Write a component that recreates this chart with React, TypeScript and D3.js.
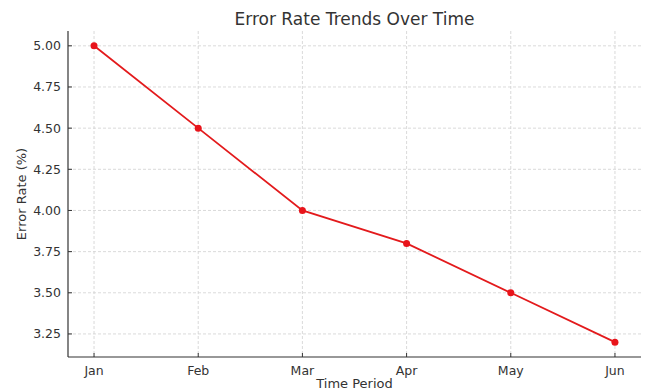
import React from "react";
import * as d3 from "d3";

const months = ["Jan", "Feb", "Mar", "Apr", "May", "Jun"];
const errorRates = [5.0, 4.5, 4.0, 3.8, 3.5, 3.2];
const yTicks = [3.25, 3.5, 3.75, 4.0, 4.25, 4.5, 4.75, 5.0];

const W = 648, H = 392;
const M = { left: 68, right: 7, top: 31, bottom: 35 };
const FONT = "DejaVu Sans, sans-serif";

export default function App() {
  const x = d3.scaleLinear().domain([-0.25, months.length - 1 + 0.25]).range([M.left, W - M.right]);
  const yMin = 3.11, yMax = 5.09;
  const y = d3.scaleLinear().domain([yMin, yMax]).range([H - M.bottom, M.top]);
  const line = d3.line<number>().x((_, i) => x(i)).y((d) => y(d));
  const bottom = H - M.bottom;
  return (
    <svg width={W} height={H} style={{ position: "absolute", left: 0, top: 0, background: "#fff" }} fontFamily={FONT}>
      {months.map((m, i) => (
        <line key={"gx" + m} x1={x(i)} x2={x(i)} y1={M.top} y2={bottom} stroke="#d0d0d0" strokeWidth={0.8} strokeDasharray="3,2" />
      ))}
      {yTicks.map((t) => (
        <line key={"gy" + t} x1={M.left} x2={W - M.right} y1={y(t)} y2={y(t)} stroke="#d0d0d0" strokeWidth={0.8} strokeDasharray="3,2" />
      ))}
      <line x1={M.left} x2={M.left} y1={M.top} y2={bottom} stroke="#333" strokeWidth={1.2} />
      <line x1={M.left} x2={W - M.right} y1={bottom} y2={bottom} stroke="#333" strokeWidth={1.2} />
      {yTicks.map((t) => (
        <g key={"ty" + t}>
          <line x1={M.left} x2={M.left + 4} y1={y(t)} y2={y(t)} stroke="#333" strokeWidth={1} />
          <text x={M.left - 7} y={y(t)} dy="0.35em" textAnchor="end" fontSize={12.5} fill="#333">{t.toFixed(2)}</text>
        </g>
      ))}
      {months.map((m, i) => (
        <g key={"tx" + m}>
          <line x1={x(i)} x2={x(i)} y1={bottom} y2={bottom - 4} stroke="#333" strokeWidth={1} />
          <text x={x(i)} y={bottom + 18} textAnchor="middle" fontSize={12.5} fill="#333">{m}</text>
        </g>
      ))}
      <path d={line(errorRates) || ""} fill="none" stroke="#e31a1c" strokeWidth={1.8} />
      {errorRates.map((v, i) => (
        <circle key={"p" + i} cx={x(i)} cy={y(v)} r={3.5} fill="#e8141b" />
      ))}
      <text x={(M.left + W - M.right) / 2} y={25} textAnchor="middle" fontSize={17} fill="#333">Error Rate Trends Over Time</text>
      <text x={(M.left + W - M.right) / 2} y={388} textAnchor="middle" fontSize={13} fill="#333">Time Period</text>
      <text transform={`translate(26,${(M.top + bottom) / 2}) rotate(-90)`} textAnchor="middle" fontSize={13} fill="#333">Error Rate (%)</text>
    </svg>
  );
}
